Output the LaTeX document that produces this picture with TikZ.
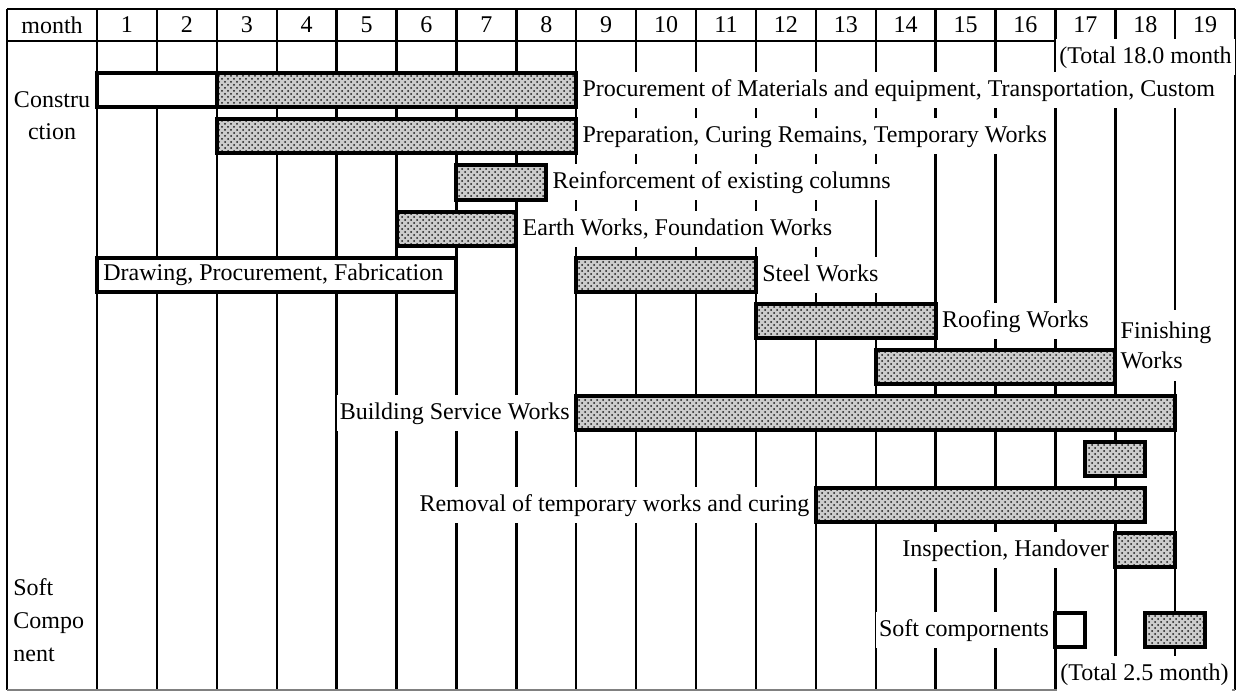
\documentclass[tikz,border=0pt]{standalone}
\usepackage{fontspec}
\setmainfont{Liberation Serif}
\usetikzlibrary{patterns}
% width of one month column
\def\cw{59.9}
\begin{document}
\begin{tikzpicture}[x=0.5pt,y=-0.5pt,
  gridline/.style={line width=1.2pt},
  shaded/.style={line width=2pt, preaction={fill=black!20}, pattern=crosshatch dots, pattern color=black!90},
  plain/.style={line width=2pt, fill=white},
  txt/.style={font=\fontsize{12}{14}\selectfont},
  lbl/.style={txt, fill=white, inner xsep=1.5pt, inner ysep=3.5pt, text height=8.5pt, text depth=2.5pt}]
\useasboundingbox (0,0) rectangle (1245,691);

% month grid
\foreach \m in {0,...,18}
  \draw[gridline] ({97+\m*\cw},9) -- ({97+\m*\cw},690);
\draw[gridline] (7,9) -- (1235,9);
\draw[gridline] (7,41) -- (1235,41);
\draw[gridline] (7,9) -- (7,690);
\draw[gridline] (1235,9) -- (1235,690);
\draw[gray, line width=0.6pt] (7,690) -- (1235,690);

% header
\node[txt] (hmonth) at (52,25) {month};
\foreach \m in {1,...,19}
  \node[txt] (h\m) at ({97+(\m-0.5)*\cw},25) {\m};

% left column
\node[txt, align=center, font=\fontsize{12}{16}\selectfont] (constr) at (52,116) {Constru\\ction};
\node[txt, align=left, anchor=west, inner xsep=3pt, font=\fontsize{12}{16.5}\selectfont] (softc) at (7,620) {Soft\\Compo\\nent};

% task labels
\node[lbl, anchor=west] (tot18) at (1056,57) {(Total 18.0 month};
\node[lbl, anchor=west] (lproc) at ({97+8*\cw+3},90) {Procurement of Materials and equipment, Transportation, Custom};
\node[lbl, anchor=west] (lprep) at ({97+8*\cw+3},136) {Preparation, Curing Remains, Temporary Works};
\node[lbl, anchor=west] (lreinf) at ({97+7.5*\cw+3},182) {Reinforcement of existing columns};
\node[lbl, anchor=west] (learth) at ({97+7*\cw+3},229) {Earth Works, Foundation Works};
\node[lbl, anchor=west] (lsteel) at ({97+11*\cw+3},275) {Steel Works};
\node[lbl, anchor=west] (lroof) at ({97+14*\cw+3},321) {Roofing Works};
\node[txt, fill=white, align=left, anchor=west, inner xsep=1.5pt, inner ysep=6pt, font=\fontsize{12}{15}\selectfont] (lfin) at ({97+17*\cw+2},345) {Finishing\\Works};
\node[lbl, anchor=east] (lserv) at ({97+8*\cw-3},413) {Building Service Works};
\node[lbl, anchor=east] (lremov) at ({97+12*\cw-3},505) {Removal of temporary works and curing};
\node[lbl, anchor=east] (linsp) at ({97+17*\cw-3},550) {Inspection, Handover};
\node[lbl, anchor=east] (lsoft) at ({97+16*\cw-3},630) {Soft compornents};
\node[lbl, anchor=west] (tot25) at (1057,674) {(Total 2.5 month)};

% bars
\draw[plain]  ({97+0*\cw},73) rectangle ({97+2*\cw},107);
\draw[shaded] ({97+2*\cw},73) rectangle ({97+8*\cw},107);
\draw[shaded] ({97+2*\cw},119) rectangle ({97+8*\cw},153);
\draw[shaded] ({97+6*\cw},165) rectangle ({97+7.5*\cw},200);
\draw[shaded] ({97+5*\cw},212) rectangle ({97+7*\cw},246);
\draw[plain]  ({97+0*\cw},258) rectangle ({97+6*\cw},292);
\draw[shaded] ({97+8*\cw},258) rectangle ({97+11*\cw},292);
\draw[shaded] ({97+11*\cw},304) rectangle ({97+14*\cw},338);
\draw[shaded] ({97+13*\cw},350) rectangle ({97+17*\cw},384);
\draw[shaded] ({97+8*\cw},396) rectangle ({97+18*\cw},430);
\draw[shaded] ({97+16.5*\cw},442) rectangle ({97+17.5*\cw},476);
\draw[shaded] ({97+12*\cw},488) rectangle ({97+17.5*\cw},522);
\draw[shaded] ({97+17*\cw},533) rectangle ({97+18*\cw},567);
\draw[plain]  ({97+16*\cw},613) rectangle ({97+16.5*\cw},647);
\draw[shaded] ({97+17.5*\cw},613) rectangle ({97+18.5*\cw},647);

% text inside the drawing box
\node[txt, anchor=west, inner xsep=2pt] (ldraw) at (99,275) {Drawing, Procurement, Fabrication};
\end{tikzpicture}
\end{document}
